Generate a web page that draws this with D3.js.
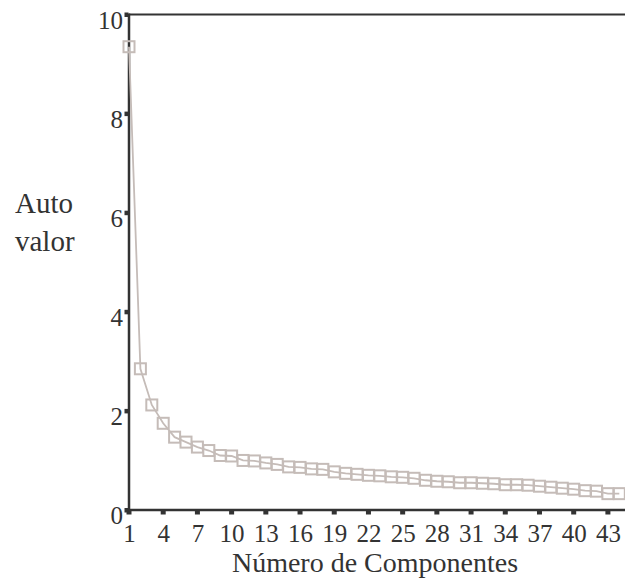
<!DOCTYPE html>
<html>
  <head>
    <title>Auto valor</title>
    <script src="https://d3js.org/d3.v7.min.js"></script>
    <style>
      body { margin: 0; background: #fff; }
    </style>
  </head>
  <body>
    <script>

      // componentes (1..44) y sus autovalores
      var componentes = d3.range(1, 45)
      var autovalores = [9.35, 2.85, 2.12, 1.75, 1.47, 1.37, 1.27, 1.2, 1.1, 1.09,
                         1.0, 0.99, 0.95, 0.92, 0.87, 0.86, 0.83, 0.82, 0.77, 0.74,
                         0.72, 0.70, 0.69, 0.67, 0.66, 0.64, 0.6, 0.58, 0.57, 0.55,
                         0.55, 0.54, 0.53, 0.51, 0.51, 0.5, 0.48, 0.46, 0.44, 0.42,
                         0.39, 0.38, 0.33, 0.33]
      var x_ticks = [1, 4, 7, 10, 13, 16, 19, 22, 25, 28, 31, 34, 37, 40, 43]
      var y_ticks = [0, 2, 4, 6, 8, 10]

      var w_svg = 625
      var h_svg = 579
      var left = 129
      var right = 625
      var top_y = 14.5
      var bottom = 510
      var line_color = "#c5bcb8"
      var axis_color = "#333"
      var font = "'Liberation Serif', 'Times New Roman', 'DejaVu Serif', serif"

      var svg = d3.select("body")
        .append("svg")
        .attr("width", w_svg)
        .attr("height", h_svg)
        .style("font-family", font)

      var x_scale = d3.scaleLinear()
        .domain([1, 44.5])
        .range([left, right])

      var y_scale = d3.scaleLinear()
        .domain([0, 10])
        .range([bottom, top_y])

      // top line at y = 10
      svg.append("line")
        .attr("x1", left).attr("x2", right)
        .attr("y1", y_scale(10)).attr("y2", y_scale(10))
        .attr("stroke", axis_color)
        .attr("stroke-width", 2)

      // x axis
      var x_axis = d3.axisBottom(x_scale)
        .tickValues(x_ticks)
        .tickSize(0)
        .tickPadding(14)
        .tickFormat(d3.format("d"))

      var gx = svg.append("g")
        .attr("transform", "translate(0," + bottom + ")")
        .call(x_axis)
        .attr("font-family", font)
      gx.select(".domain").remove()
      gx.selectAll("text")
        .style("font-family", font)
        .style("font-size", "25px")
        .attr("fill", "#333")

      svg.append("line")
        .attr("x1", left - 2).attr("x2", right)
        .attr("y1", bottom).attr("y2", bottom)
        .attr("stroke", axis_color)
        .attr("stroke-width", 2.5)

      svg.selectAll(".xtick")
        .data(x_ticks)
        .enter()
        .append("rect")
        .attr("x", function(d) { return x_scale(d) - 2.5 })
        .attr("y", bottom + 1)
        .attr("width", 5)
        .attr("height", 3.5)
        .attr("fill", axis_color)

      // y axis
      var y_axis = d3.axisLeft(y_scale)
        .tickValues(y_ticks)
        .tickSize(0)
        .tickPadding(6)

      var gy = svg.append("g")
        .attr("transform", "translate(" + left + ",0)")
        .call(y_axis)
        .attr("font-family", font)
      gy.select(".domain").remove()
      gy.selectAll("text")
        .style("font-family", font)
        .style("font-size", "25px")
        .attr("fill", "#333")
        .attr("dy", "0.55em")

      svg.append("line")
        .attr("x1", left).attr("x2", left)
        .attr("y1", top_y - 1).attr("y2", bottom + 1)
        .attr("stroke", axis_color)
        .attr("stroke-width", 2.5)

      svg.selectAll(".ytick")
        .data(y_ticks)
        .enter()
        .append("rect")
        .attr("x", left - 4.5)
        .attr("y", function(d) { return y_scale(d) - 2 })
        .attr("width", 4)
        .attr("height", 4.5)
        .attr("fill", axis_color)

      // line
      var data = componentes.map(function(c, i) { return [c, autovalores[i]] })

      svg.append("path")
        .datum(data)
        .attr("fill", "none")
        .attr("stroke", line_color)
        .attr("stroke-width", 1.8)
        .attr("d", d3.line()
          .x(function(d) { return x_scale(d[0]) })
          .y(function(d) { return y_scale(d[1]) }))

      // square markers
      svg.selectAll(".marker")
        .data(data)
        .enter()
        .append("rect")
        .attr("x", function(d) { return x_scale(d[0]) - 5.5 })
        .attr("y", function(d) { return y_scale(d[1]) - 5.5 })
        .attr("width", 11)
        .attr("height", 11)
        .attr("fill", "none")
        .attr("stroke", line_color)
        .attr("stroke-width", 2)

      // titles
      svg.append("text")
        .attr("x", 375)
        .attr("y", 572)
        .attr("text-anchor", "middle")
        .attr("fill", "#333")
        .style("font-family", font)
        .style("font-size", "28px")
        .text("Número de Componentes")

      svg.append("text")
        .attr("x", 15)
        .attr("y", 213)
        .attr("fill", "#333")
        .style("font-family", font)
        .style("font-size", "29px")
        .text("Auto")

      svg.append("text")
        .attr("x", 15)
        .attr("y", 251)
        .attr("fill", "#333")
        .style("font-family", font)
        .style("font-size", "29px")
        .text("valor")

    </script>
  </body>
</html>
